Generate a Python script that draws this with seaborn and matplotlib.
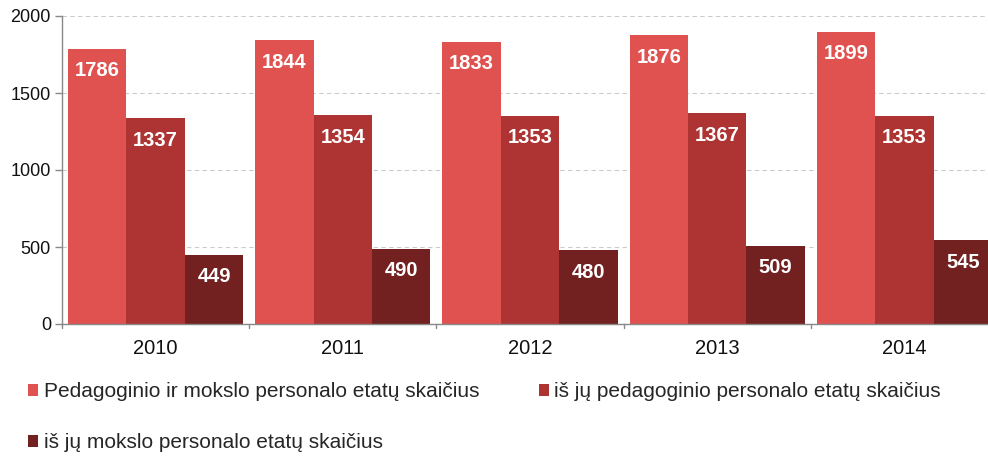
import matplotlib
matplotlib.use("Agg")
import matplotlib.pyplot as plt
import seaborn as sns
import pandas as pd

years = ["2010", "2011", "2012", "2013", "2014"]
series_names = [
    "Pedagoginio ir mokslo personalo etatų skaičius",
    "iš jų pedagoginio personalo etatų skaičius",
    "iš jų mokslo personalo etatų skaičius",
]
total = [1786, 1844, 1833, 1876, 1899]
pedagogical = [1337, 1354, 1353, 1367, 1353]
scientific = [449, 490, 480, 509, 545]
colors = ["#DF5250", "#AE3434", "#722020"]

rows = []
for name, vals in zip(series_names, [total, pedagogical, scientific]):
    for y, v in zip(years, vals):
        rows.append({"year": y, "series": name, "value": v})
df = pd.DataFrame(rows)

sns.set_theme(style="white")
plt.rcParams["font.family"] = ["Liberation Sans", "DejaVu Sans"]

fig = plt.figure(figsize=(9.88, 4.59), dpi=100)
ax = fig.add_axes([62 / 988, 1 - 324 / 459, 936 / 988, 308 / 459])

sns.barplot(data=df, x="year", y="value", hue="series", palette=colors,
            width=0.936, gap=0, dodge=True, ax=ax, saturation=1, legend=True,
            edgecolor="none", linewidth=0)

ax.set_ylim(0, 2000)
ax.set_xlim(-0.5, 4.5)
ax.set_yticks([0, 500, 1000, 1500, 2000])
ax.set_yticklabels(["0", "500", "1000", "1500", "2000"], fontsize=13, color="#111111")
ax.set_xticks([0, 1, 2, 3, 4])
ax.set_xticklabels(years, fontsize=14.5, color="#111111")
ax.tick_params(axis="x", length=0, pad=11)
ax.tick_params(axis="y", length=5, width=1, color="#888888", pad=3, direction="out", left=True)
for xb in [-0.5, 0.5, 1.5, 2.5, 3.5]:
    ax.plot([xb, xb], [0, -25], color="#888888", lw=1, clip_on=False, zorder=5)
ax.set_xlabel("")
ax.set_ylabel("")
ax.yaxis.grid(True, linestyle=(0, (4, 3)), color="#cccccc", linewidth=0.8)
ax.set_axisbelow(True)
for s in ["top", "right"]:
    ax.spines[s].set_visible(False)
for s in ["left", "bottom"]:
    ax.spines[s].set_color("#888888")
    ax.spines[s].set_linewidth(1)

for cont in ax.containers:
    for bar in cont:
        h = bar.get_height()
        ax.annotate(f"{int(round(h))}", (bar.get_x() + bar.get_width() / 2, h),
                    xytext=(0, -22), textcoords="offset pixels",
                    ha="center", va="center", color="white", fontsize=14.5,
                    fontweight="bold")

handles, labels = ax.get_legend_handles_labels()
ax.legend_.remove()
order = [0, 2, 1]
fig.legend([handles[i] for i in order], [labels[i] for i in order], ncol=2,
           loc="upper left", bbox_to_anchor=(28 / 988, 1 - 382 / 459), frameon=False,
           fontsize=15, handlelength=0.5, handleheight=0.5, handletextpad=0.25,
           columnspacing=2.85, labelspacing=1.55, borderaxespad=0, borderpad=0)

fig.savefig("out.png", dpi=100)
